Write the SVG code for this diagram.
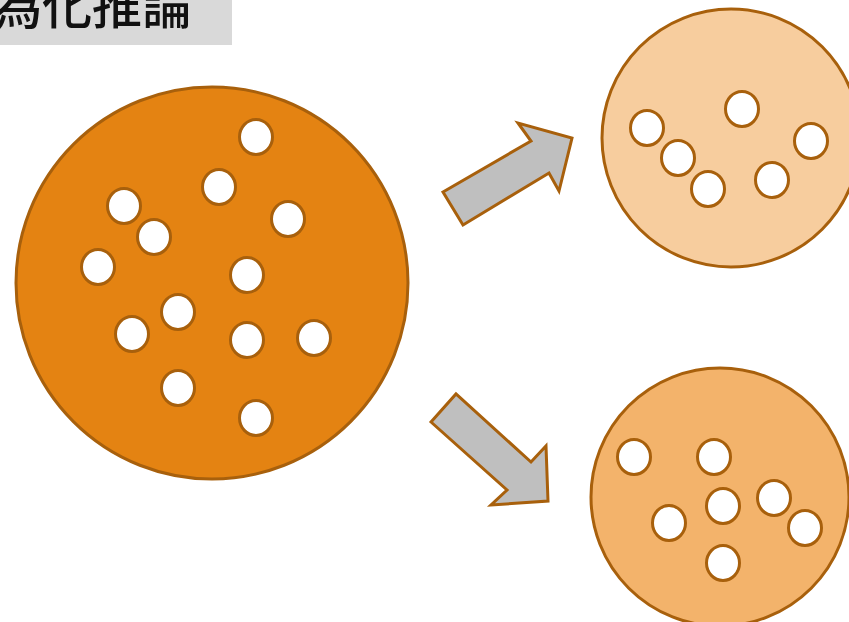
<svg xmlns="http://www.w3.org/2000/svg" width="849" height="622" viewBox="0 0 849 622">
  <style>
    .pop { stroke: #a8600c; stroke-width: 3; }
    .hole { fill: #ffffff; stroke: #a8600c; stroke-width: 3; }
    .arrow { fill: #bfbfbf; stroke: #a8600c; stroke-width: 3; stroke-linejoin: miter; }
    .title { font-family: "Noto Sans CJK JP", "Noto Sans CJK SC", sans-serif; font-size: 50px; font-weight: 500; fill: #111111; }
  </style>
  <defs>
    <ellipse id="h" rx="16.5" ry="17.5" class="hole"/>
  </defs>
  <rect width="849" height="622" fill="#ffffff"/>

  <g id="title">
    <rect x="0" y="0" width="232" height="45" fill="#d9d9d9"/>
    <text class="title" x="192" y="24" text-anchor="end">無作為化推論</text>
  </g>

  <g id="population">
    <circle class="pop" cx="212" cy="283" r="196" fill="#e48312"/>
    <use href="#h" x="256" y="137"/>
    <use href="#h" x="219" y="187"/>
    <use href="#h" x="124" y="206"/>
    <use href="#h" x="154" y="237"/>
    <use href="#h" x="288" y="219"/>
    <use href="#h" x="98" y="267"/>
    <use href="#h" x="247" y="275"/>
    <use href="#h" x="178" y="312"/>
    <use href="#h" x="132" y="334"/>
    <use href="#h" x="247" y="340"/>
    <use href="#h" x="314" y="338"/>
    <use href="#h" x="178" y="388"/>
    <use href="#h" x="256" y="418"/>
  </g>

  <g id="group-a">
    <circle class="pop" cx="731" cy="138" r="129" fill="#f7cd9e"/>
    <use href="#h" x="647" y="128"/>
    <use href="#h" x="742" y="109"/>
    <use href="#h" x="678" y="158"/>
    <use href="#h" x="811" y="141"/>
    <use href="#h" x="708" y="189"/>
    <use href="#h" x="772" y="180"/>
  </g>

  <g id="group-b">
    <circle class="pop" cx="720" cy="497" r="129" fill="#f3b36b"/>
    <use href="#h" x="634" y="457"/>
    <use href="#h" x="714" y="457"/>
    <use href="#h" x="723" y="506"/>
    <use href="#h" x="774" y="498"/>
    <use href="#h" x="669" y="523"/>
    <use href="#h" x="805" y="528"/>
    <use href="#h" x="723" y="563"/>
  </g>

  <g id="connectors">
    <polygon class="arrow" points="443,192 531,141 518,123 572,138 559,191 549,173 463,225"/>
    <polygon class="arrow" points="431,422 456,394 531,462 546,446 548,501 491,505 507,490"/>
  </g>
</svg>
